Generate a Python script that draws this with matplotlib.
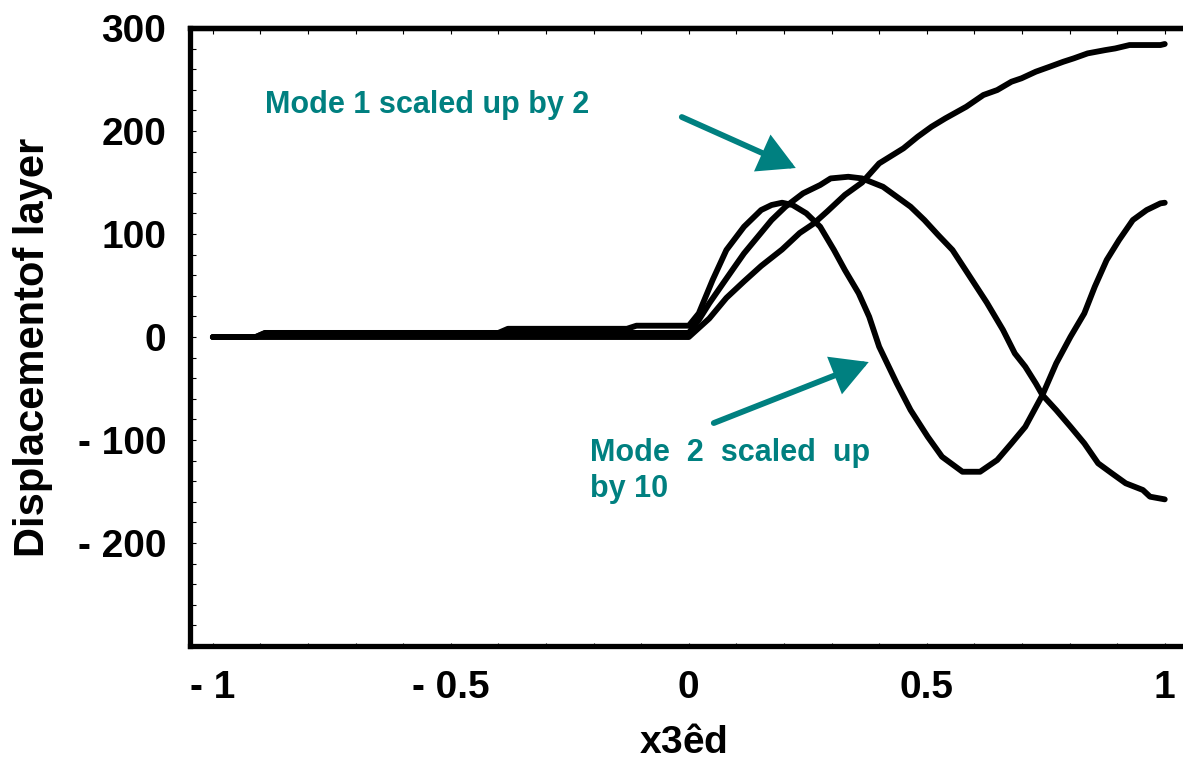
import matplotlib.pyplot as plt
from matplotlib.ticker import MultipleLocator, FixedLocator, FixedFormatter

plt.rcParams['font.family'] = ['Liberation Sans', 'DejaVu Sans']
plt.rcParams['font.weight'] = 'bold'

# layer displacement along x/d
mode0_x = [-1, 0, 0.043, 0.079, 0.116, 0.152, 0.196, 0.233, 0.262, 0.291, 0.328, 0.364,
           0.400, 0.451, 0.481, 0.510, 0.539, 0.583, 0.619, 0.648, 0.678, 0.699, 0.729,
           0.758, 0.787, 0.809, 0.838, 0.875, 0.896, 0.926, 0.991, 1.0]
mode0_y = [0, 0, 18, 38, 54, 69, 85, 101, 110, 122, 138, 150,
           168.6, 183.2, 194.5, 204.2, 212.3, 223.6, 235, 239.8, 247.9, 251.2, 257.6,
           262.4, 267.3, 270.6, 275.4, 278.6, 280.2, 283.5, 283.5, 284.5]

# mode 1, scaled up by 2
mode1_x = [-1, -0.91, -0.89, 0.0, 0.021, 0.043, 0.072, 0.094, 0.116, 0.145, 0.174, 0.203,
           0.240, 0.276, 0.298, 0.335, 0.364, 0.408, 0.437, 0.466, 0.495, 0.524, 0.554,
           0.583, 0.626, 0.660, 0.685, 0.707, 0.729, 0.743, 0.772, 0.802, 0.831, 0.860,
           0.889, 0.918, 0.954, 0.969, 1.0]
mode1_y = [0, 0, 4, 4, 16.5, 32.7, 52.1, 66.7, 81.2, 97.4, 113.6, 126.5,
           139.5, 147.6, 154, 155.6, 154, 145.9, 136.2, 126.5, 113.6, 99, 84.5,
           64, 33.5, 7, -15.9, -28.8, -45, -56.3, -70.9, -87.1, -103.2, -122.6,
           -132.4, -142, -148.5, -155, -157.6]

# mode 2, scaled up by 10
mode2_x = [-1, -0.91, -0.89, -0.40, -0.38, -0.13, -0.11, 0.0, 0.021, 0.050, 0.079, 0.116,
           0.152, 0.174, 0.196, 0.218, 0.247, 0.276, 0.305, 0.328, 0.357, 0.379, 0.400,
           0.437, 0.466, 0.502, 0.532, 0.575, 0.612, 0.648, 0.678, 0.707, 0.743, 0.772,
           0.802, 0.831, 0.853, 0.878, 0.904, 0.933, 0.962, 0.991, 1.0]
mode2_y = [0, 0, 4, 4, 8, 8, 11, 11, 23, 55.3, 84.5, 107.1,
           123.3, 128.2, 130.4, 128.2, 120.1, 107.1, 84.5, 65, 42.4, 19.7, -9.4,
           -45, -70.9, -96.8, -116.2, -130.8, -130.8, -119.4, -103.2, -87.1, -56.3, -25.5,
           0.3, 23, 48.9, 74.8, 94.2, 113.6, 123.3, 129.8, 130.4]

x_ticks = [-1, -0.5, 0, 0.5, 1]
x_labels = ['- 1', '- 0.5', '0', '0.5', '1']
y_ticks = [-200, -100, 0, 100, 200, 300]
y_labels = ['- 200', '- 100', '0', '100', '200', '300']

teal = '#008080'

fig = plt.figure(figsize=(11.83, 7.62), dpi=100)
ax = fig.add_axes([0.1606, 0.1522, 0.8453, 0.8110])

for xs, ys in [(mode0_x, mode0_y), (mode1_x, mode1_y), (mode2_x, mode2_y)]:
    ax.plot(xs, ys, color='black', lw=4.2, solid_capstyle='round', solid_joinstyle='round')

ax.set_xlim(-1.048, 1.053)
ax.set_ylim(-300, 300)

for side in ['left', 'bottom', 'top']:
    ax.spines[side].set_linewidth(3.8)
ax.spines['right'].set_visible(False)

ax.xaxis.set_major_locator(FixedLocator(x_ticks))
ax.xaxis.set_major_formatter(FixedFormatter(x_labels))
ax.xaxis.set_minor_locator(MultipleLocator(0.1))
ax.yaxis.set_major_locator(FixedLocator(y_ticks))
ax.yaxis.set_major_formatter(FixedFormatter(y_labels))
ax.yaxis.set_minor_locator(MultipleLocator(20))

ax.tick_params(axis='both', which='both', direction='in', width=0.8, labelsize=28, pad=17)
ax.tick_params(axis='y', which='both', length=4.5)
ax.tick_params(axis='x', which='both', length=2.5)

top = ax.secondary_xaxis('top')
top.xaxis.set_major_locator(MultipleLocator(0.1))
top.tick_params(direction='in', length=4.5, width=0.8, labeltop=False)
top.spines['top'].set_linewidth(3.8)

ax.set_ylabel('Displacementof layer', fontsize=30, fontweight='bold')
ax.yaxis.set_label_coords(-0.137, 0.484)
# the middle glyph of the x label is set in a light upright face
ax.set_xlabel('x3$\\mathregular{ê}$d', fontsize=28, fontweight='bold')
ax.xaxis.set_label_coords(0.493, -0.128)

ax.text(-0.891, 225, 'Mode 1 scaled up by 2', color=teal, fontsize=22,
        fontweight='bold', ha='left', va='center')
ax.text(-0.208, -130, 'Mode  2  scaled  up\nby 10', color=teal, fontsize=22,
        fontweight='bold', ha='left', va='center', linespacing=1.25)

arrow = dict(arrowstyle='-|>,head_length=1.0,head_width=0.55', mutation_scale=20,
             lw=4.2, color=teal, shrinkA=0, shrinkB=0, joinstyle='miter')
ax.annotate('', xy=(0.2248, 164.1), xytext=(-0.0147, 213.6), arrowprops=arrow)
ax.annotate('', xy=(0.378, -24.3), xytext=(0.0525, -83.5), arrowprops=arrow)

fig.savefig('out.png', dpi=100)
